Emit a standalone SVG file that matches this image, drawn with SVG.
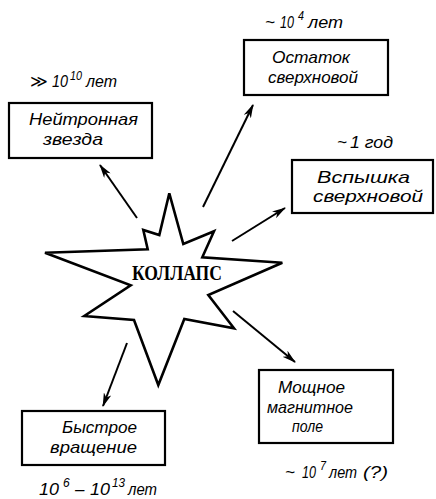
<svg xmlns="http://www.w3.org/2000/svg" width="436" height="499" viewBox="0 0 436 499">
<defs>
<style>
.box{fill:#fff;stroke:#000;stroke-width:2.2}
.t{font-family:"Liberation Sans","DejaVu Sans",sans-serif;font-style:italic;font-size:17px;fill:#000}
.sup{font-size:12px}
.ar{stroke:#000;stroke-width:2;fill:none}
.star{fill:#fff;stroke:#000;stroke-width:2.6;stroke-linejoin:miter}
.k{font-family:"Liberation Serif","DejaVu Serif",serif;font-weight:bold;font-size:21px;fill:#000}
</style>
<marker id="ah" viewBox="0 0 14 8" refX="13" refY="4" markerWidth="14" markerHeight="8" markerUnits="userSpaceOnUse" orient="auto">
<path d="M0,0 L14,4 L0,8 L4,4 z" fill="#000"/>
</marker>
</defs>
<rect width="436" height="499" fill="#fff"/>

<g id="collapse">
<polygon class="star" points="169.3,193.3 183.3,244 214,231.3 202.3,257.3 282.3,262.7 208.3,295 234,328.3 184.3,319 158.3,385 134,320 84.3,316 130.7,285.3 45,252.7 147.7,249.3 143.3,230 159.3,235"/>
<text class="k" x="132" y="280" textLength="90" lengthAdjust="spacingAndGlyphs">КОЛЛАПС</text>
</g>

<g id="connectors">
<line class="ar" x1="137" y1="218" x2="100" y2="165" marker-end="url(#ah)"/>
<line class="ar" x1="203" y1="207" x2="253" y2="105" marker-end="url(#ah)"/>
<line class="ar" x1="232" y1="241" x2="285" y2="208" marker-end="url(#ah)"/>
<line class="ar" x1="233" y1="311" x2="295" y2="362" marker-end="url(#ah)"/>
<line class="ar" x1="127" y1="343" x2="103" y2="406" marker-end="url(#ah)"/>
</g>

<g id="neutron-star">
<rect class="box" x="9" y="103" width="143" height="55"/>
<text class="t" x="29" y="125" textLength="109" lengthAdjust="spacingAndGlyphs">Нейтронная</text>
<text class="t" x="43" y="145" textLength="60" lengthAdjust="spacingAndGlyphs">звезда</text>
<text class="t" x="30" y="87">≫</text>
<text class="t" x="52" y="87" textLength="16" lengthAdjust="spacingAndGlyphs">10</text>
<text class="t sup" x="70" y="80" textLength="12" lengthAdjust="spacingAndGlyphs">10</text>
<text class="t" x="86" y="87" textLength="31" lengthAdjust="spacingAndGlyphs">лет</text>
</g>

<g id="supernova-remnant">
<rect class="box" x="244" y="40" width="144" height="55"/>
<text class="t" x="272" y="63" textLength="78" lengthAdjust="spacingAndGlyphs">Остаток</text>
<text class="t" x="268" y="83" textLength="90" lengthAdjust="spacingAndGlyphs">сверхновой</text>
<text class="t" x="265" y="28">~</text>
<text class="t" x="280" y="28" textLength="14" lengthAdjust="spacingAndGlyphs">10</text>
<text class="t sup" x="298" y="20" textLength="6" lengthAdjust="spacingAndGlyphs">4</text>
<text class="t" x="308" y="28" textLength="35" lengthAdjust="spacingAndGlyphs">лет</text>
</g>

<g id="supernova-flash">
<rect class="box" x="292" y="160" width="141" height="53"/>
<text class="t" x="317" y="183" textLength="93" lengthAdjust="spacingAndGlyphs">Вспышка</text>
<text class="t" x="313" y="202" textLength="110" lengthAdjust="spacingAndGlyphs">сверхновой</text>
<text class="t" x="337" y="148">~</text>
<text class="t" x="350" y="148" textLength="43" lengthAdjust="spacingAndGlyphs">1 год</text>
</g>

<g id="magnetic-field">
<rect class="box" x="259" y="370" width="134" height="73"/>
<text class="t" x="278" y="393" textLength="67" lengthAdjust="spacingAndGlyphs">Мощное</text>
<text class="t" x="267" y="413" textLength="86" lengthAdjust="spacingAndGlyphs">магнитное</text>
<text class="t" x="292" y="432" textLength="31" lengthAdjust="spacingAndGlyphs">поле</text>
<text class="t" x="285" y="478">~</text>
<text class="t" x="302" y="478" textLength="14" lengthAdjust="spacingAndGlyphs">10</text>
<text class="t sup" x="320" y="470" textLength="6" lengthAdjust="spacingAndGlyphs">7</text>
<text class="t" x="329" y="478" textLength="28" lengthAdjust="spacingAndGlyphs">лет</text>
<text class="t" x="363" y="478" textLength="25" lengthAdjust="spacingAndGlyphs">(?)</text>
</g>

<g id="fast-rotation">
<rect class="box" x="22" y="411" width="143" height="54"/>
<text class="t" x="62" y="433" textLength="75" lengthAdjust="spacingAndGlyphs">Быстрое</text>
<text class="t" x="50" y="453" textLength="87" lengthAdjust="spacingAndGlyphs">вращение</text>
<text class="t" x="39" y="495" textLength="20" lengthAdjust="spacingAndGlyphs">10</text>
<text class="t sup" x="63" y="487">6</text>
<text class="t" x="75" y="495">–</text>
<text class="t" x="90" y="495" textLength="20" lengthAdjust="spacingAndGlyphs">10</text>
<text class="t sup" x="112" y="487" textLength="13" lengthAdjust="spacingAndGlyphs">13</text>
<text class="t" x="128" y="495" textLength="29" lengthAdjust="spacingAndGlyphs">лет</text>
</g>
</svg>
